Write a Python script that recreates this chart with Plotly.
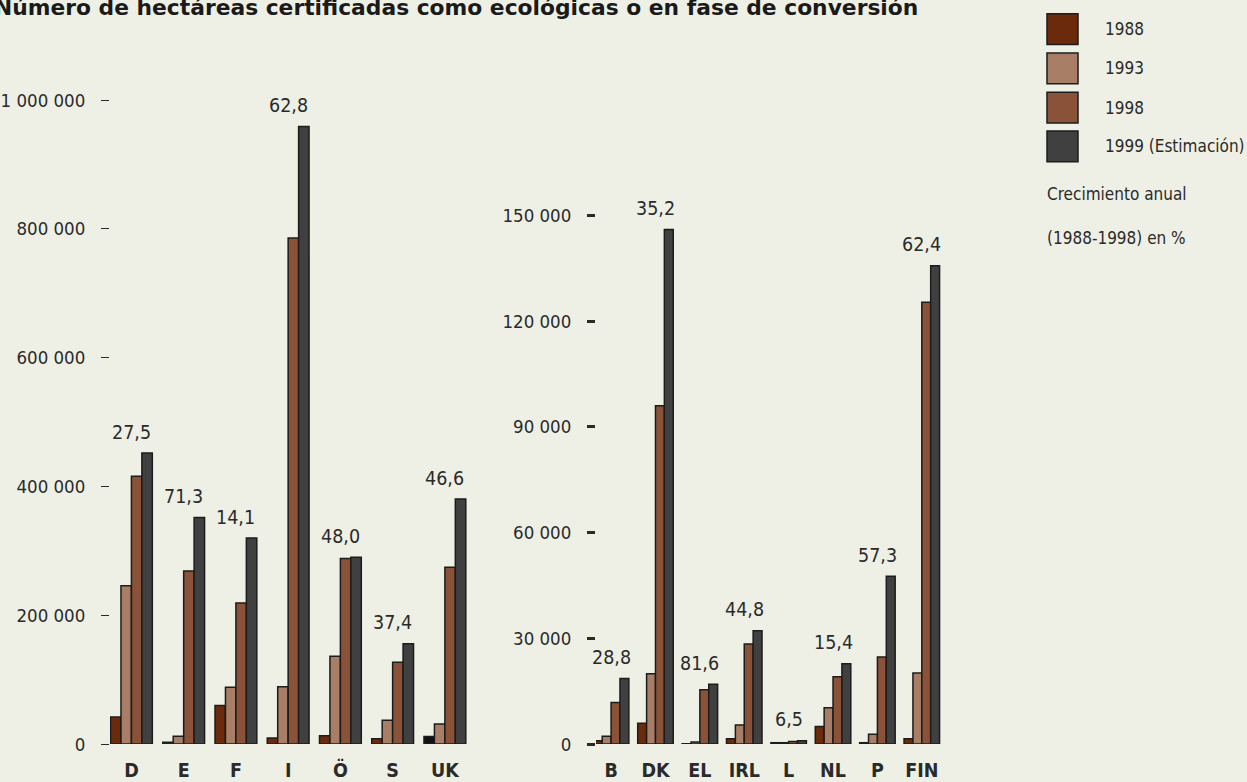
import plotly.graph_objects as go

# ---------------- data ----------------
left_cats = ["D", "E", "F", "I", "Ö", "S", "UK"]
left_1988 = [42000, 3000, 60000, 9500, 13000, 8500, 11700]
left_1993 = [246000, 12300, 88200, 89000, 136400, 37000, 31200]
left_1998 = [416000, 269000, 219000, 786000, 288300, 127300, 274700]
left_1999 = [452000, 352000, 320000, 959000, 290300, 155800, 380500]
left_growth = ["27,5", "71,3", "14,1", "62,8", "48,0", "37,4", "46,6"]

right_cats = ["B", "DK", "EL", "IRL", "L", "NL", "P", "FIN"]
right_1988 = [950, 5900, 100, 1500, 400, 5000, 400, 1500]
right_1993 = [2250, 20000, 600, 5400, 400, 10300, 2800, 20200]
right_1998 = [11800, 96000, 15400, 28400, 750, 19100, 24700, 125400]
right_1999 = [18600, 146000, 17000, 32200, 940, 22800, 47600, 135700]
right_growth = ["28,8", "35,2", "81,6", "44,8", "6,5", "15,4", "57,3", "62,4"]

series_names = ["1988", "1993", "1998", "1999 (Estimación)"]
left_tickvals = [0, 200000, 400000, 600000, 800000, 1000000]
left_ticktext = ["0", "200 000", "400 000", "600 000", "800 000", "1 000 000"]
right_tickvals = [0, 30000, 60000, 90000, 120000, 150000]
right_ticktext = ["0", "30 000", "60 000", "90 000", "120 000", "150 000"]

title_text = "Número de hectáreas certificadas como ecológicas o en fase de conversión"
growth_caption = ["Crecimiento anual", "(1988-1998) en %"]

# ---------------- style ----------------
W, H = 1247, 782
BG = "#eef0e5"
TXT = "#2a2a2a"
FONT = "Liberation Sans Narrow, DejaVu Sans Condensed, sans-serif"
colors = ["#6a2a0b", "#a87f66", "#8a5238", "#404040"]
left_1988_colors = [colors[0]] * 6 + ["#111111"]
OUTLINE = "#1c1c1c"
VSCALE = 0.9888  # observed vertical compression of the photographed page


def px_x(p):
    return p / W


def px_y(p):
    return 1 - ((p + 0.9) / VSCALE) / H


fig = go.Figure()

left_series = [left_1988, left_1993, left_1998, left_1999]
right_series = [right_1988, right_1993, right_1998, right_1999]

for i, (name, vals) in enumerate(zip(series_names, left_series)):
    fig.add_trace(go.Bar(
        x=left_cats, y=vals, name=name, xaxis="x", yaxis="y",
        marker=dict(color=left_1988_colors if i == 0 else colors[i],
                    line=dict(color=OUTLINE, width=1.5)),
        showlegend=False, hoverinfo="x+y",
    ))
for i, (name, vals) in enumerate(zip(series_names, right_series)):
    fig.add_trace(go.Bar(
        x=right_cats, y=vals, name=name, xaxis="x2", yaxis="y2",
        marker=dict(color=colors[i], line=dict(color=OUTLINE, width=1.5)),
        showlegend=False, hoverinfo="x+y",
    ))

annotations = []
left_max = [max(v) for v in zip(*left_series)]
for c, m, g in zip(left_cats, left_max, left_growth):
    annotations.append(dict(x=c, y=m, xref="x", yref="y", text=g, showarrow=False,
                            yanchor="middle", yshift=21,
                            font=dict(family=FONT, size=19.5, color=TXT)))
right_max = [max(v) for v in zip(*right_series)]
for c, m, g in zip(right_cats, right_max, right_growth):
    annotations.append(dict(x=c, y=m, xref="x2", yref="y2", text=g, showarrow=False,
                            yanchor="middle", yshift=21,
                            font=dict(family=FONT, size=19.5, color=TXT)))

# title (clipped at the top like the reference)
annotations.append(dict(x=px_x(-8), y=px_y(7), xref="paper", yref="paper",
                        text="<b>" + title_text + "</b>", showarrow=False,
                        xanchor="left", yanchor="middle",
                        font=dict(family="DejaVu Sans", size=21.8, color="#1a1a1a")))

# legend (manual)
shapes = []
sq_centers = [28.5, 68, 107.5, 146.5]
for yc, col, name in zip(sq_centers, colors, series_names):
    shapes.append(dict(type="rect", xref="paper", yref="paper",
                       x0=px_x(1047), x1=px_x(1078), y0=px_y(yc + 15.5), y1=px_y(yc - 15.5),
                       fillcolor=col, line=dict(color=OUTLINE, width=1.5)))
    annotations.append(dict(x=px_x(1103), y=px_y(yc), xref="paper", yref="paper",
                            text=name, showarrow=False, xanchor="left", yanchor="middle",
                            font=dict(family=FONT, size=17, color=TXT)))
for yc, t in zip([194, 239], growth_caption):
    annotations.append(dict(x=px_x(1045), y=px_y(yc), xref="paper", yref="paper",
                            text=t, showarrow=False, xanchor="left", yanchor="middle",
                            font=dict(family=FONT, size=17, color=TXT)))

y_bottom = 748.3
y_top = 60
left_ymax = 1000000 * (y_bottom - y_top) / (y_bottom - 100)
right_ymax = 150000 * (y_bottom - y_top) / (y_bottom - 216)

common_x = dict(showline=False, showgrid=False, zeroline=False, ticks="",
                tickfont=dict(family=FONT, size=19.5, color=TXT), ticklabelstandoff=12,
                fixedrange=True)
common_y = dict(showline=False, showgrid=False, zeroline=False, ticks="outside",
                ticklen=8, tickcolor=TXT, tickfont=dict(family=FONT, size=18.5, color=TXT),
                ticklabelstandoff=12, fixedrange=True)

fig.update_layout(
    width=W, height=H,
    margin=dict(l=0, r=0, t=0, b=0),
    paper_bgcolor=BG, plot_bgcolor=BG,
    barmode="group", bargap=0.2, bargroupgap=0,
    showlegend=False,
    xaxis=dict(domain=[px_x(110), px_x(471)], range=[-0.41, 6.5], anchor="y",
               tickprefix="<b>", ticksuffix="</b>", **common_x),
    xaxis2=dict(domain=[px_x(596), px_x(944)], range=[-0.34, 7.5], anchor="y2",
                tickprefix="<b>", ticksuffix="</b>", **common_x),
    yaxis=dict(domain=[px_y(y_bottom), px_y(y_top)], range=[0, left_ymax], anchor="x",
               tickvals=left_tickvals, ticktext=left_ticktext, tickwidth=1, **common_y),
    yaxis2=dict(domain=[px_y(y_bottom), px_y(y_top)], range=[0, right_ymax], anchor="x2",
                tickvals=right_tickvals, ticktext=right_ticktext, tickwidth=2.5, **common_y),
    annotations=annotations,
    shapes=shapes,
)

fig.write_html(
    "out.html",
    config={"displayModeBar": False},
    post_script=(
        "var de=document.documentElement, b=document.body;"
        "de.style.margin='0';de.style.padding='0';de.style.overflow='hidden';"
        "de.style.background='" + BG + "';"
        "b.style.margin='0';b.style.padding='0';b.style.overflow='hidden';"
        "b.style.background='" + BG + "';"
    ),
)
